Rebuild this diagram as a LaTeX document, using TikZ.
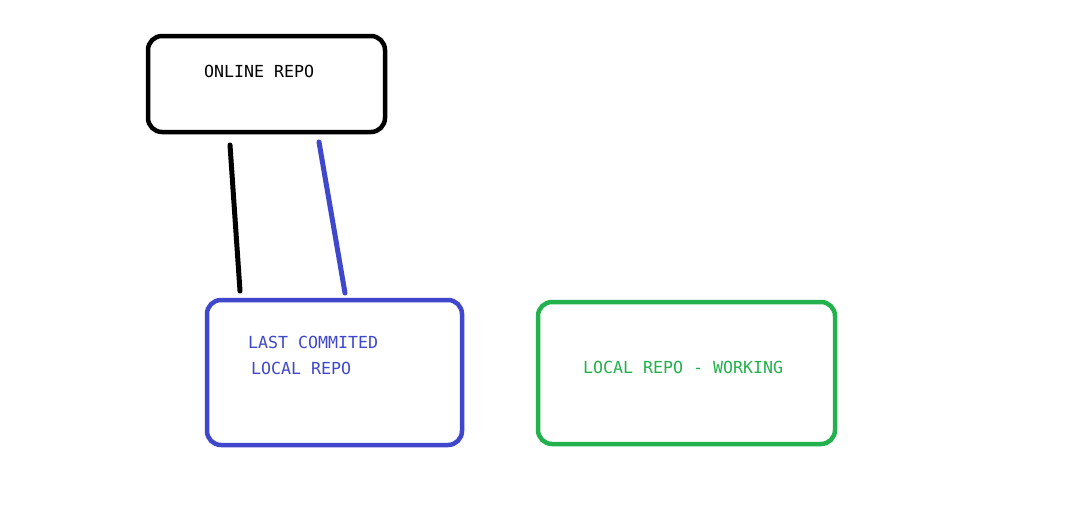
\documentclass[tikz,border=0pt]{standalone}
\usepackage{fontspec}
\setmonofont{DejaVu Sans Mono}
\definecolor{pblue}{HTML}{3F48CC}
\definecolor{pgreen}{HTML}{22B14C}
\tikzset{
  box/.style={draw, line width=4.5pt, rounded corners=14pt, inner sep=0pt, fill=none},
  lbl/.style={anchor=west, inner sep=0pt, font=\ttfamily\fontsize{16.6}{19}\selectfont},
  link/.style={line width=5pt, line cap=round}
}
\begin{document}
\begin{tikzpicture}[x=1pt,y=-1pt]
\useasboundingbox[fill=white] (0,0) rectangle (1081,530);
\node[box, black, minimum width=237pt, minimum height=96pt] (online) at (266.5,84) {};
\node[box, pblue, minimum width=255pt, minimum height=145pt] (local) at (334.5,372.5) {};
\node[box, pgreen, minimum width=297pt, minimum height=142pt] (working) at (686.5,373) {};
\node[lbl, black] (t1) at (204,71) {ONLINE REPO};
\node[lbl, pblue] (t2) at (248,342) {LAST COMMITED};
\node[lbl, pblue] (t3) at (251,368) {LOCAL REPO};
\node[lbl, pgreen] (t4) at (583,367) {LOCAL REPO - WORKING};
\coordinate (a1) at (230,145);
\coordinate (a2) at (240,291);
\coordinate (b1) at (319,142);
\coordinate (b2) at (345,293);
\draw[link, black] (a1) -- (a2);
\draw[link, pblue] (b1) -- (b2);
\end{tikzpicture}
\end{document}
